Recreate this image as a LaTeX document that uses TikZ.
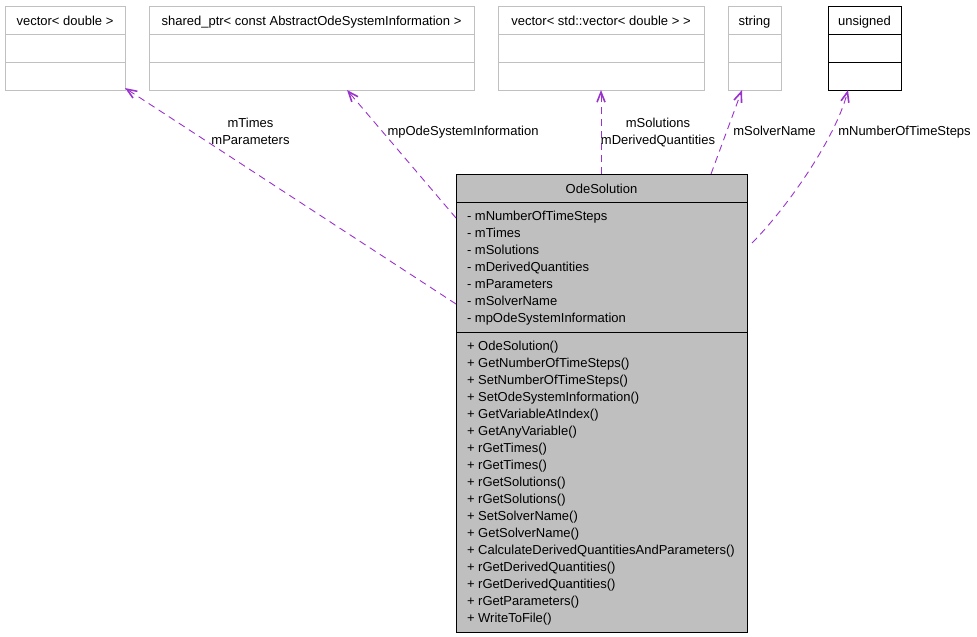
\documentclass[tikz,border=0pt]{standalone}
\usepackage{fontspec}
\setmainfont{Liberation Sans}
\usetikzlibrary{arrows.meta}
\definecolor{edgepurple}{RGB}{154,50,205}
\definecolor{boxgray}{RGB}{191,191,191}
\definecolor{lightborder}{RGB}{192,192,192}
\begin{document}
\begin{tikzpicture}[x=1pt,y=-1pt,
  every node/.style={font=\fontsize{13}{17}\selectfont, inner sep=0pt, outer sep=0pt},
  typebox/.style={draw=lightborder, line width=0.9pt, fill=white, minimum height=84pt},
  blackbox/.style={draw=black, line width=0.9pt, fill=white, minimum height=84pt},
  sepgray/.style={draw=lightborder, line width=0.9pt},
  sepblack/.style={draw=black, line width=0.9pt},
  mainbox/.style={draw=black, line width=0.9pt, fill=boxgray},
  dep/.style={draw=edgepurple, line width=0.9pt, dash pattern=on 7pt off 5pt,
    -{Straight Barb[length=10pt,width=8pt,line width=1.6pt]}},
  lbl/.style={anchor=base},
  member/.style={anchor=base west}
]
\useasboundingbox (0,0) rectangle (977,637);
\fill[white] (0,0) rectangle (977,637);

% type boxes
\node[typebox, minimum width=120pt] (vd) at (65,48) {};
\node[typebox, minimum width=325pt] (sp) at (311.5,48) {};
\node[typebox, minimum width=206pt] (vv) at (601,48) {};
\node[typebox, minimum width=53pt] (st) at (754.5,48) {};
\node[blackbox, minimum width=73pt] (un) at (864.5,48) {};

\foreach \b in {vd,sp,vv,st}{
  \draw[sepgray] ([yshift=-28pt]\b.north west) -- ([yshift=-28pt]\b.north east);
  \draw[sepgray] ([yshift=-56pt]\b.north west) -- ([yshift=-56pt]\b.north east);
}
\draw[sepblack] ([yshift=-28pt]un.north west) -- ([yshift=-28pt]un.north east);
\draw[sepblack] ([yshift=-56pt]un.north west) -- ([yshift=-56pt]un.north east);

\node[lbl] (vdt) at (65,25) {vector< double >};
\node[lbl] (spt) at (311.5,25) {shared\_ptr< const AbstractOdeSystemInformation >};
\node[lbl] (vvt) at (601,25) {vector< std::vector< double > >};
\node[lbl] (stt) at (754.5,25) {string};
\node[lbl] (unt) at (864.5,25) {unsigned};

% main class box
\node[mainbox, minimum width=291pt, minimum height=458pt] (ode) at (601.5,403) {};
\draw[sepblack] ([yshift=-28pt]ode.north west) -- ([yshift=-28pt]ode.north east);
\draw[sepblack] ([yshift=-158pt]ode.north west) -- ([yshift=-158pt]ode.north east);
\node[lbl] (odet) at (601.5,193) {OdeSolution};

\foreach \t [count=\i] in {mNumberOfTimeSteps, mTimes, mSolutions, mDerivedQuantities, mParameters, mSolverName, mpOdeSystemInformation}
  \node[member] (attr\i) at (467,203+17*\i) {- \t};

\foreach \t [count=\i] in {OdeSolution(), GetNumberOfTimeSteps(), SetNumberOfTimeSteps(), SetOdeSystemInformation(), GetVariableAtIndex(), GetAnyVariable(), rGetTimes(), rGetTimes(), rGetSolutions(), rGetSolutions(), SetSolverName(), GetSolverName(), CalculateDerivedQuantitiesAndParameters(), rGetDerivedQuantities(), rGetDerivedQuantities(), rGetParameters(), WriteToFile()}
  \node[member] (meth\i) at (467,333+17*\i) {+ \t};

% connectors
\draw[dep] ([yshift=-130pt]ode.north west) -- ([yshift=2pt]vd.south east);
\draw[dep] ([yshift=-44pt]ode.north west) -- ([xshift=198pt]sp.south west);
\draw[dep] (ode.north -| vv.south) -- (vv.south);
\draw[dep] ([xshift=-36pt]ode.north east) -- ([xshift=14pt]st.south west);
\draw[dep] ([xshift=5pt,yshift=-69pt]ode.north east) .. controls (785,210) and (835,140) .. ([xshift=20pt]un.south west);

% edge labels
\node[lbl] (l1a) at (250.5,127) {mTimes};
\node[lbl] (l1b) at (250.5,144) {mParameters};
\node[lbl] (l2) at (463,135) {mpOdeSystemInformation};
\node[lbl] (l3a) at (658,127) {mSolutions};
\node[lbl] (l3b) at (658,144) {mDerivedQuantities};
\node[lbl] (l4) at (774.5,135) {mSolverName};
\node[lbl] (l5) at (904.5,135) {mNumberOfTimeSteps};
\end{tikzpicture}
\end{document}
